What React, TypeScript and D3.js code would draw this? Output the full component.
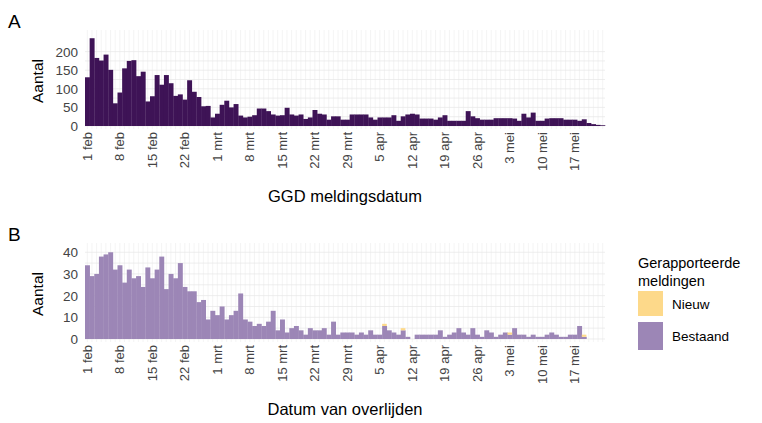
import * as d3 from "d3";
import React from "react";

const tickLabels = ["1 feb", "8 feb", "15 feb", "22 feb", "1 mrt", "8 mrt", "15 mrt", "22 mrt", "29 mrt", "5 apr", "12 apr", "19 apr", "26 apr", "3 mei", "10 mei", "17 mei"];

const ggd = [131, 236, 183, 176, 192, 151, 61, 90, 155, 175, 177, 134, 146, 66, 80, 137, 111, 137, 115, 81, 85, 71, 123, 92, 78, 53, 54, 23,
  33, 57, 68, 50, 59, 28, 23, 25, 29, 47, 47, 40, 31, 28, 29, 49, 31, 28, 31, 19, 23, 43, 33, 31, 17, 26, 26, 17, 17, 31, 31, 31, 31,
  23, 17, 23, 23, 23, 29, 14, 26, 31, 33, 31, 20, 20, 20, 17, 23, 29, 14, 14, 14, 14, 40, 26, 21, 17, 17, 17, 21, 21, 21, 21, 20, 14,
  33, 23, 36, 14, 14, 20, 21, 21, 21, 17, 17, 17, 14, 18, 8, 5, 3, 2];

const bestaand = [34, 29, 30, 38, 39, 40, 32, 34, 26, 32, 28, 29, 24, 33, 28, 32, 38, 23, 30, 28, 35, 24, 22, 22, 17, 18, 9, 13,
  11, 15, 9, 11, 13, 21, 9, 8, 6, 7, 6, 8, 13, 4, 9, 3, 5, 6, 4, 2, 5, 4, 4, 5, 2, 8, 2, 3, 3, 3, 2, 3, 2, 4, 2, 2, 6, 4, 3, 2, 4,
  1, 0, 2, 2, 2, 2, 2, 4, 1, 2, 3, 5, 3, 2, 5, 2, 1, 4, 3, 1, 2, 3, 2, 5, 2, 2, 1, 2, 1, 1, 2, 3, 2, 1, 1, 2, 2, 6, 1, 0, 0, 0, 0];
const nieuw = bestaand.map(() => 0);
[64, 68, 91, 107].forEach((i) => (nieuw[i] = 1));

const font = "'Liberation Sans', Arial, sans-serif";
const days = d3.range(ggd.length);

function Panel({ top, letter, values, extra, max, ticks, color, title }: any) {
  const left = 85, right = 605, h = 90;
  const x = d3.scaleBand<number>().domain(days).range([left, right]).padding(0);
  const y = d3.scaleLinear().domain([0, max]).range([top + h, top]);
  const minor = ticks.slice(0, -1).map((t: number, i: number) => (t + ticks[i + 1]) / 2);
  const base = top + h;
  return (
    <g>
      <text x={8} y={top - 8} fontSize={19}>{letter}</text>
      {days.map((d) => (
        <line key={d} x1={x(d)! + x.bandwidth() / 2} x2={x(d)! + x.bandwidth() / 2} y1={top - 6} y2={base + 3} stroke="#ececec" strokeWidth={0.6} />
      ))}
      {[...ticks, ...minor].map((t: number) => (
        <line key={"g" + t} x1={left} x2={right} y1={y(t)} y2={y(t)} stroke="#e6e6e6" strokeWidth={0.7} />
      ))}
      {ticks.map((t: number) => (
        <text key={t} x={78} y={y(t) + 5} fontSize={13.5} textAnchor="end" fill="#444">{t}</text>
      ))}
      <text transform={`translate(43,${top + h / 2}) rotate(-90)`} textAnchor="middle" fontSize={15.5}>Aantal</text>
      {days.map((d) => (
        <rect key={d} x={x(d)} width={x.bandwidth() + 0.3} y={y(values[d])} height={base - y(values[d])} fill={color} />
      ))}
      {extra && days.filter((d) => extra[d] > 0).map((d) => (
        <rect key={"n" + d} x={x(d)} width={x.bandwidth()} y={y(values[d] + extra[d])} height={y(values[d]) - y(values[d] + extra[d])} fill="#fdd98a" />
      ))}
      {tickLabels.map((l, i) => (
        <text key={l} transform={`translate(${x(i * 7)! + x.bandwidth() / 2 + 4.5},${base + 6}) rotate(-90)`} textAnchor="end" fontSize={13} fill="#444">{l}</text>
      ))}
      <text x={345} y={base + 76} textAnchor="middle" fontSize={16.5}>{title}</text>
    </g>
  );
}

export default function App() {
  return (
    <svg width={762} height={423} style={{ position: "absolute", left: 0, top: 0, background: "#fff" }} fontFamily={font}>
      <Panel top={36} letter="A" values={ggd} max={242} ticks={[0, 50, 100, 150, 200]} color="#3e1356" title="GGD meldingsdatum" />
      <Panel top={249} letter="B" values={bestaand} extra={nieuw} max={41.5} ticks={[0, 10, 20, 30, 40]} color="#9c86b6" title="Datum van overlijden" />
      <text x={638} y={268} fontSize={14.5}>Gerapporteerde</text>
      <text x={638} y={286} fontSize={14.5}>meldingen</text>
      <rect x={638} y={291} width={25} height={25} fill="#fdd98a" />
      <rect x={638} y={322} width={25} height={28} fill="#9c86b6" />
      <text x={672} y={309} fontSize={13.5}>Nieuw</text>
      <text x={672} y={341} fontSize={13.5}>Bestaand</text>
    </svg>
  );
}
